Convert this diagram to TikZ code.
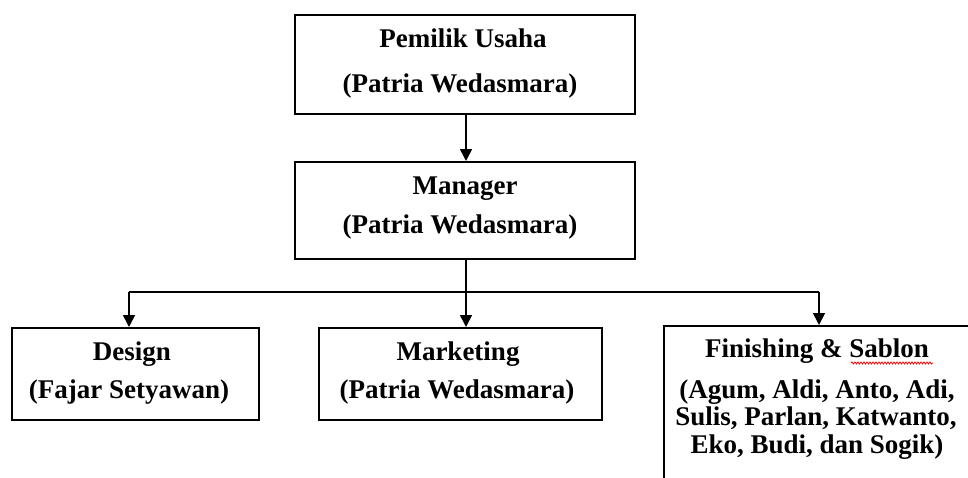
\documentclass[tikz,border=0pt]{standalone}
\usepackage{fontspec}
\setmainfont{Liberation Serif}
\usetikzlibrary{arrows.meta,decorations.pathmorphing}
\begin{document}
\begin{tikzpicture}[x=1pt,y=-1pt,
  box/.style={draw=black,line width=1.6pt,inner sep=0pt,anchor=north west},
  lbl/.style={anchor=base,inner sep=0pt,text height=18pt,text depth=4.5pt,
    font=\fontsize{27}{31}\selectfont\bfseries},
  conn/.style={draw=black,line width=1.6pt},
  arr/.style={conn,-{Triangle[length=12pt,width=12pt]}}
]
\useasboundingbox (0,0) rectangle (968,477);
\clip (0,0) rectangle (968,477);

% boxes
\node[box,minimum width=340pt,minimum height=99pt] (own) at (294,14) {};
\node[box,minimum width=340pt,minimum height=97pt] (mgr) at (294,161) {};
\node[box,minimum width=247pt,minimum height=92pt] (dsg) at (11,327) {};
\node[box,minimum width=283pt,minimum height=92pt] (mkt) at (318,327) {};
\node[box,minimum width=330pt,minimum height=180pt] (fin) at (663,325) {};

% texts
\node[lbl] (t1) at (463,47) {Pemilik Usaha};
\node[lbl] (t2) at (460,92) {(Patria Wedasmara)};
\node[lbl] (t3) at (465,194) {Manager};
\node[lbl] (t4) at (460,233) {(Patria Wedasmara)};
\node[lbl] (t5) at (132,360) {Design};
\node[lbl] (t6) at (129,398) {(Fajar Setyawan)};
\node[lbl] (t7) at (458,360) {Marketing};
\node[lbl] (t8) at (457,398) {(Patria Wedasmara)};
\node[lbl] (t9) at (817,357) {Finishing \& Sablon};
\node[lbl] (t10) at (817,398) {(Agum, Aldi, Anto, Adi,};
\node[lbl] (t11) at (816,425) {Sulis, Parlan, Katwanto,};
\node[lbl] (t12) at (817,453) {Eko, Budi, dan Sogik)};

% spell-check underline
\coordinate (w1) at (851,363);
\coordinate (w2) at (933,363);
\draw[red,line width=0.8pt,decorate,decoration={snake,segment length=3pt,amplitude=1pt}] (w1) -- (w2);

% connectors
\coordinate (m) at (466,0);
\coordinate (bl) at (129,292);
\coordinate (bm) at (466,292);
\coordinate (br) at (819,292);
\draw[arr] (own.south -| m) -- (mgr.north -| m);
\draw[conn] (mgr.south -| bm) -- (bm);
\draw[conn] (bl) -- (br);
\draw[arr] (bl) -- (dsg.north -| bl);
\draw[arr] (bm) -- (mkt.north -| bm);
\draw[arr] (br) -- (fin.north -| br);
\end{tikzpicture}
\end{document}
